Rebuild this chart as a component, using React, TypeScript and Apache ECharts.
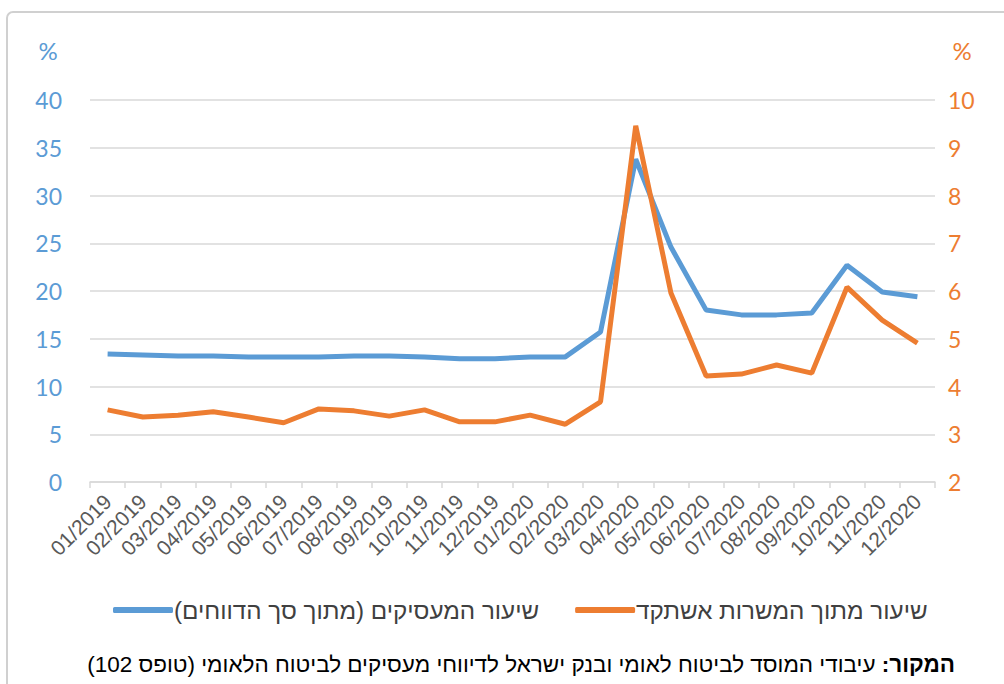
import React, { useEffect, useRef } from "react";
import * as echarts from "echarts";

const categories = [
  "01/2019", "02/2019", "03/2019", "04/2019", "05/2019", "06/2019",
  "07/2019", "08/2019", "09/2019", "10/2019", "11/2019", "12/2019",
  "01/2020", "02/2020", "03/2020", "04/2020", "05/2020", "06/2020",
  "07/2020", "08/2020", "09/2020", "10/2020", "11/2020", "12/2020",
];

// left axis (%): share of employers out of all reports
const employersRate = [
  13.4, 13.3, 13.2, 13.2, 13.1, 13.1, 13.1, 13.2, 13.2, 13.1, 12.9, 12.9,
  13.1, 13.1, 15.7, 33.8, 24.6, 18.0, 17.5, 17.5, 17.7, 22.7, 19.9, 19.4,
];

// right axis (%): share out of last year's positions
const jobsRate = [
  3.51, 3.36, 3.40, 3.47, 3.36, 3.24, 3.53, 3.49, 3.38, 3.51, 3.26, 3.26,
  3.40, 3.21, 3.68, 9.46, 5.96, 4.22, 4.26, 4.45, 4.28, 6.08, 5.39, 4.91,
];

const RLM = "\u200F";
const employersName = RLM + "שיעור המעסיקים (מתוך סך הדווחים)" + RLM;
const jobsName = RLM + "שיעור מתוך המשרות אשתקד" + RLM;
const sourceLabel = "המקור:";
const sourceText = " עיבודי המוסד לביטוח לאומי ובנק ישראל לדיווחי מעסיקים לביטוח הלאומי (טופס 102)";

const BLUE = "#5B9BD5";
const ORANGE = "#ED7D31";
const GRID = "#D9D9D9";
const LEGEND_FONT = "'Liberation Sans', 'DejaVu Sans', sans-serif";
const SOURCE_FONT = "'Liberation Sans', 'DejaVu Sans', sans-serif";
const NUM_FONT = "Lato, 'Open Sans', sans-serif";

export default function App() {
  const ref = useRef<HTMLDivElement>(null);

  useEffect(() => {
    if (!ref.current) return;
    const chart = echarts.init(ref.current, null, { renderer: "svg" });
    chart.setOption({
      animation: false,
      backgroundColor: "#ffffff",
      grid: { left: 90, right: 69, top: 100, bottom: 202, containLabel: false },
      legend: {
        left: 108,
        top: 593,
        itemWidth: 60,
        itemHeight: 6,
        itemGap: 36,
        icon: "roundRect",
        textStyle: { fontFamily: LEGEND_FONT, fontSize: 24.2, color: "#404040", padding: [0, 0, 0, -4] },
        data: [employersName, jobsName],
      },
      graphic: [
        {
          type: "rect",
          shape: { x: 7, y: 12, width: 1100, height: 800, r: 6 },
          style: { fill: "none", stroke: "#D0D0D0", lineWidth: 2 },
          silent: true,
          z: -1,
        },
        {
          type: "text",
          x: 48,
          y: 50,
          style: { text: "%", fill: BLUE, font: "24px " + NUM_FONT, align: "center", verticalAlign: "middle" },
        },
        {
          type: "text",
          x: 962,
          y: 50,
          style: { text: "%", fill: ORANGE, font: "24px " + NUM_FONT, align: "center", verticalAlign: "middle" },
        },
        {
          type: "text",
          x: 955,
          y: 664,
          style: {
            text: "{r|" + RLM + sourceText + RLM + "}{b|" + RLM + sourceLabel + RLM + "}",
            align: "right",
            verticalAlign: "middle",
            rich: {
              r: { fontFamily: SOURCE_FONT, fontSize: 22.5, fill: "#000000", color: "#000000" },
              b: { fontFamily: SOURCE_FONT, fontSize: 22.5, fontWeight: "bold", fill: "#000000", color: "#000000" },
            },
          },
        },
      ],
      xAxis: {
        type: "category",
        data: categories,
        boundaryGap: true,
        axisLine: { lineStyle: { color: GRID, width: 1.5 } },
        axisTick: { show: true, length: 6, lineStyle: { color: GRID, width: 1.5 } },
        axisLabel: {
          interval: 0,
          rotate: 45,
          margin: 16,
          fontFamily: "'Liberation Sans', Arial, sans-serif",
          fontSize: 21,
          color: "#595959",
        },
      },
      yAxis: [
        {
          type: "value",
          min: 0,
          max: 40,
          interval: 5,
          position: "left",
          axisLine: { show: false },
          axisTick: { show: false },
          splitLine: { lineStyle: { color: GRID, width: 1.5 } },
          axisLabel: { margin: 28, fontFamily: NUM_FONT, fontSize: 23, color: BLUE },
        },
        {
          type: "value",
          min: 2,
          max: 10,
          interval: 1,
          position: "right",
          axisLine: { show: false },
          axisTick: { show: false },
          splitLine: { show: false },
          axisLabel: { margin: 13, fontFamily: NUM_FONT, fontSize: 23, color: ORANGE },
        },
      ],
      series: [
        {
          name: employersName,
          type: "line",
          yAxisIndex: 0,
          data: employersRate,
          showSymbol: false,
          symbol: "none",
          lineStyle: { color: BLUE, width: 5 },
          itemStyle: { color: BLUE },
          z: 2,
        },
        {
          name: jobsName,
          type: "line",
          yAxisIndex: 1,
          data: jobsRate,
          showSymbol: false,
          symbol: "none",
          lineStyle: { color: ORANGE, width: 5 },
          itemStyle: { color: ORANGE },
          z: 3,
        },
      ],
    });
    return () => chart.dispose();
  }, []);

  return (
    <div
      ref={ref}
      style={{ position: "absolute", left: 0, top: 0, width: 1004, height: 684 }}
    />
  );
}
